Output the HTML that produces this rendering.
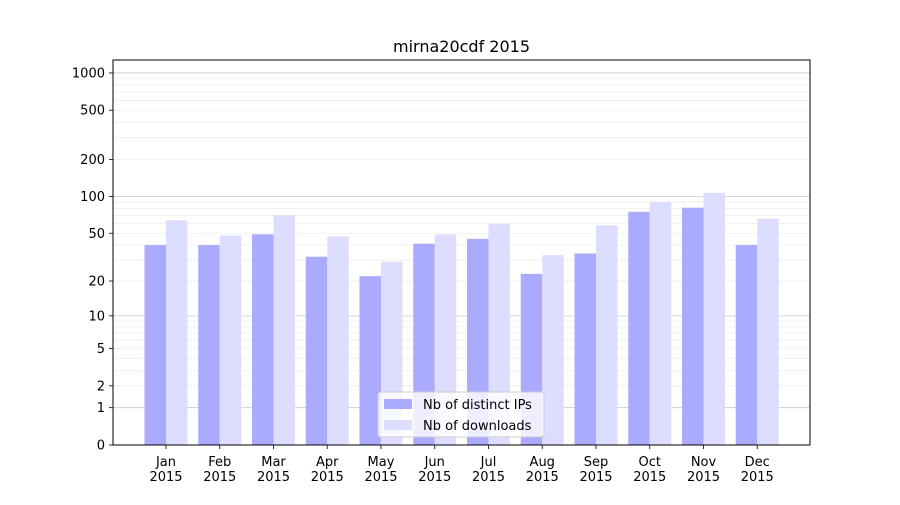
<!DOCTYPE html>
<html><head><meta charset="utf-8"><style>
body{margin:0;background:#fff;font-family:"Liberation Sans","DejaVu Sans",sans-serif;}
text{font-family:"DejaVu Sans","Liberation Sans",sans-serif;}
</style></head><body>
<svg id="chart" width="900" height="500" xmlns="http://www.w3.org/2000/svg"></svg>
<script>
const months = ["Jan","Feb","Mar","Apr","May","Jun","Jul","Aug","Sep","Oct","Nov","Dec"];
const distinctIPs = [40,40,49,32,22,41,45,23,34,75,81,40];
const downloads = [64,48,70,47,29,49,60,33,58,90,107,66];
const yTicks = [0,1,2,5,10,20,50,100,200,500,1000];
const majorGrid = [0,1,10,100,1000];
const minorGrid = [2,3,4,5,6,7,8,9,20,30,40,50,60,70,80,90,200,300,400,500,600,700,800,900];

const NS="http://www.w3.org/2000/svg";
const svg=document.getElementById('chart');
const L=113,R=810,T=60,B=445;
function y(v){return B-124*Math.log10(v+1);}
function xc(i){return 166+i*53.75;}
function el(tag,attrs,parent){const e=document.createElementNS(NS,tag);for(const k in attrs)e.setAttribute(k,attrs[k]);(parent||svg).appendChild(e);return e;}

const grid=el('g',{});


minorGrid.forEach(v=>{el('line',{x1:L,x2:R,y1:y(v),y2:y(v),stroke:'#eeeeee','stroke-width':0.8},grid);});
majorGrid.forEach(v=>{el('line',{x1:L,x2:R,y1:y(v),y2:y(v),stroke:'#c8c8c8','stroke-width':0.8},grid);});

const bw=21.5;
months.forEach((m,i)=>{
  const b1=el('rect',{x:xc(i)-bw,y:y(distinctIPs[i]),width:bw,height:B-y(distinctIPs[i]),fill:'#aaaaff'});
  
  
  const b2=el('rect',{x:xc(i),y:y(downloads[i]),width:bw,height:B-y(downloads[i]),fill:'#ddddff'});
  
  
  el('line',{x1:xc(i),x2:xc(i),y1:B,y2:B+4,stroke:'#000','stroke-width':0.8});
  const t=el('text',{x:xc(i),y:B+21,'font-size':13,'text-anchor':'middle'});
  
  
  t.textContent=m;
  const t2=el('text',{x:xc(i),y:B+36,'font-size':13,'text-anchor':'middle'});
  
  
  t2.textContent='2015';
});

yTicks.forEach(v=>{
  el('line',{x1:L-4,x2:L,y1:y(v),y2:y(v),stroke:'#000','stroke-width':0.8});
  const t=el('text',{x:L-8,y:y(v)+4.5,'font-size':13,'text-anchor':'end'});
  
  
  t.textContent=v;
});

const frame=el('rect',{x:L,y:T,width:R-L,height:B-T,fill:'none',stroke:'#000','stroke-width':1});



const title=el('text',{x:(L+R)/2,y:52,'font-size':16,'text-anchor':'middle'});


title.textContent='mirna20cdf 2015';

const lg=el('g',{});


el('rect',{x:378,y:392,width:166,height:45,fill:'#fff','fill-opacity':0.8,stroke:'#cccccc',rx:3},lg);
el('rect',{x:384,y:399,width:28,height:10,fill:'#aaaaff'},lg);
el('rect',{x:384,y:420,width:28,height:10,fill:'#ddddff'},lg);
const l1=el('text',{x:423,y:409,'font-size':13},lg);


l1.textContent='Nb of distinct IPs';
const l2=el('text',{x:423,y:430,'font-size':13},lg);


l2.textContent='Nb of downloads';
</script>
</body></html>
